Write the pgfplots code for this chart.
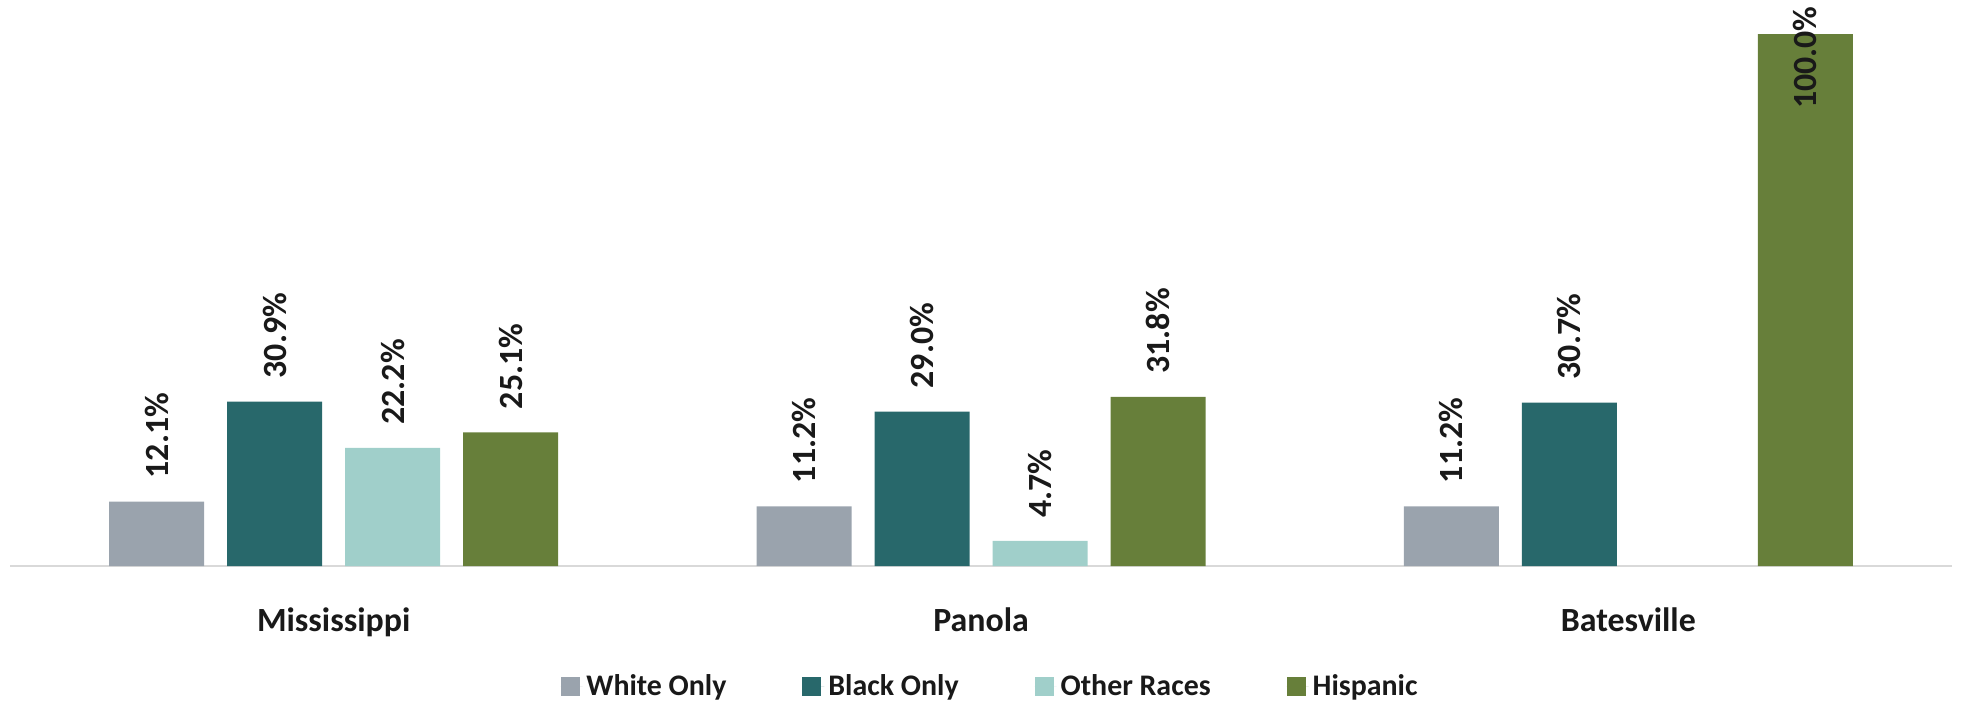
\documentclass[border=0pt]{standalone}
\usepackage{pgfplots}
\pgfplotsset{compat=1.18}
\usepackage{fontspec}
\setmainfont{Carlito}

\definecolor{cWhite}{HTML}{9AA3AD}
\definecolor{cBlack}{HTML}{28686B}
\definecolor{cOther}{HTML}{A0CFCA}
\definecolor{cHisp}{HTML}{677F3A}

\begin{document}
\begin{tikzpicture}
\begin{axis}[
    scale only axis,
    width=971bp, height=283bp,
    xmin=-0.5, xmax=2.5,
    ymin=0, ymax=106.4,
    ybar=11.5bp, bar width=47.5bp,
    clip=false,
    axis y line=none,
    axis x line*=bottom,
    x axis line style={draw=black!15, line width=1bp, -},
    xtick={0,1,2},
    xticklabels={Mississippi,Panola,Batesville},
    major tick length=0pt,
    xticklabel style={font=\fontsize{17}{20}\selectfont\bfseries, text=black!90, anchor=base, yshift=-32.5bp},
    /pgf/number format/assume math mode=true,
    visualization depends on=rawy\as\rawy,
    nodes near coords={\pgfmathprintnumber[fixed,fixed zerofill,precision=1]{\pgfplotspointmeta}\%},
    % labels sit above the bars; a bar reaching the top gets its label pulled down into it
    every node near coord/.append style={rotate=90, inner sep=0pt,
        /utils/exec={\ifdim\rawy pt>90pt \def\lblanchor{east}\def\lblsep{-14bp}%
                     \else\def\lblanchor{west}\def\lblsep{11.5bp}\fi},
        anchor=\lblanchor, inner xsep=\lblsep,
        font=\fontsize{17}{20}\selectfont\bfseries, text=black!90},
    legend style={draw=none, at={(0.5,0)}, anchor=north, yshift=-50bp, xshift=5bp,
        font=\fontsize{15}{18}\selectfont\bfseries, text=black!90,
        /tikz/every even column/.append style={column sep=36bp}},
    legend columns=-1,
    legend image code/.code={\fill[#1] (0bp,-4.75bp) rectangle (9.5bp,4.75bp);
        \path (0bp,0bp) -- (11bp,0bp);},
]
% White Only
\addplot[fill=cWhite, draw=none] coordinates {(0,12.1) (1,11.2) (2,11.2)};
% Black Only
\addplot[fill=cBlack, draw=none] coordinates {(0,30.9) (1,29.0) (2,30.7)};
% Other Races (none shown for Batesville)
\addplot[fill=cOther, draw=none] coordinates {(0,22.2) (1,4.7)};
% Hispanic
\addplot[fill=cHisp, draw=none] coordinates {(0,25.1) (1,31.8) (2,100.0)};
\legend{White Only, Black Only, Other Races, Hispanic}
\end{axis}
\pgfresetboundingbox
\path[use as bounding box] (current axis.south west) ++(-5bp,-70bp) rectangle ++(983.5bp,353bp);
\end{tikzpicture}
\end{document}
